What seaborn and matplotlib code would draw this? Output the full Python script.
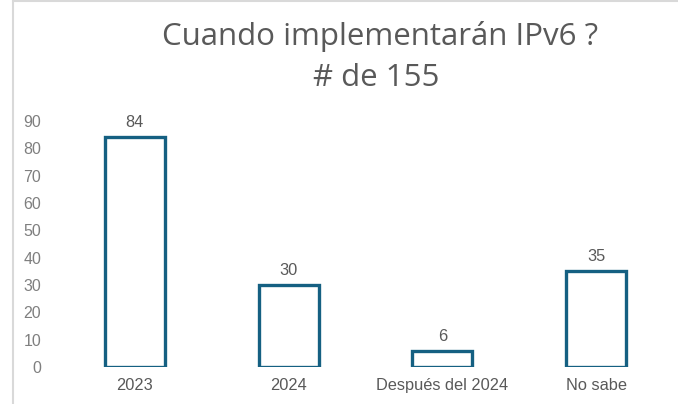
import matplotlib
matplotlib.use("Agg")
import matplotlib.pyplot as plt
import seaborn as sns
from matplotlib.lines import Line2D

# Data
categories = ["2023", "2024", "Después del 2024", "No sabe"]
counts = [84, 30, 6, 35]
y_ticks = [0, 10, 20, 30, 40, 50, 60, 70, 80, 90]

bar_color = "#156082"
text_color = "#595959"

sns.set_style("white")
plt.rcParams["font.family"] = ["Liberation Sans", "DejaVu Sans"]

fig = plt.figure(figsize=(6.78, 4.04), dpi=100)
ax = fig.add_axes([0.0855, 0.0916, 0.907, 0.609])

sns.barplot(x=categories, y=counts, fill=False, color=bar_color,
            linewidth=2.4, width=0.39, ax=ax)

# value labels above the bars
for c in ax.containers:
    ax.bar_label(c, labels=[str(v) for v in counts], padding=5,
                 fontsize=11.8, color=text_color)

ax.set_ylim(0, 90)
ax.set_xlim(-0.5, 3.5)
ax.set_yticks(y_ticks)
ax.set_xlabel("")
ax.set_ylabel("")
ax.tick_params(axis="y", length=0, pad=12, labelsize=11.5, labelcolor="#7f7f7f")
ax.tick_params(axis="x", length=0, pad=8, labelsize=11.8, labelcolor=text_color)
sns.despine(ax=ax, left=True, bottom=True)
ax.grid(False)

# title
title_font = ["Open Sans", "DejaVu Sans"]
fig.text(380 / 678, 1 - 37 / 404, "Cuando implementarán IPv6 ?", ha="center", va="center",
         fontsize=22.5, color=text_color, family=title_font)
fig.text(376 / 678, 1 - 78 / 404, "# de 155", ha="center", va="center",
         fontsize=22.5, color=text_color, family=title_font)

# chart frame edges visible in the crop
fig.add_artist(Line2D([12.5 / 678, 12.5 / 678], [0, 1], color="#d9d9d9", linewidth=1.5))
fig.add_artist(Line2D([12.5 / 678, 1], [1 - 1 / 404, 1 - 1 / 404], color="#d9d9d9", linewidth=1.5))

fig.savefig("out.png", dpi=100)
